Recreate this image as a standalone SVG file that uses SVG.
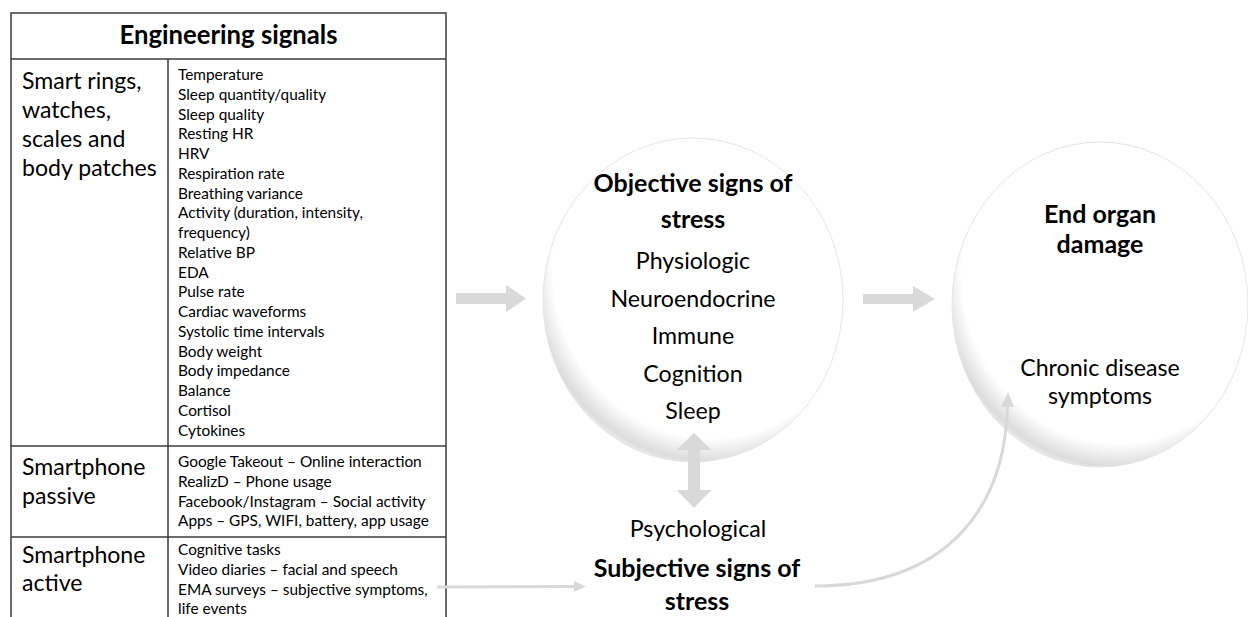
<svg xmlns="http://www.w3.org/2000/svg" width="1248" height="617" viewBox="0 0 1248 617">
<defs>
  <radialGradient id="orb" cx="0.56" cy="0.4" r="0.62">
    <stop offset="0.85" stop-color="#ffffff"/>
    <stop offset="0.965" stop-color="#dcdcdc"/>
    <stop offset="1" stop-color="#eeeeee"/>
  </radialGradient>
</defs>
<style>
  .t{font-family:Lato,"Liberation Sans",sans-serif;fill:#000}
  .hd{font-size:25.7px;font-weight:700;text-anchor:middle}
  .lb{font-size:23.1px}
  .it{font-size:15.4px}
  .ti{font-size:25px;font-weight:700;text-anchor:middle}
  .ci{font-size:23.2px;text-anchor:middle}
  .grid{fill:none;stroke:#3a3a3a;stroke-width:1.5}
  .orb{fill:url(#orb);stroke:#e6e6e6;stroke-width:1}
  .big{fill:#d9d9d9}
  .thin{fill:none;stroke:#d9d9d9;stroke-width:3}
</style>
<rect width="1248" height="617" fill="#ffffff"/>

<g id="engineering-signals">
  <rect class="grid" x="11" y="13" width="435" height="620"/>
  <line class="grid" x1="11" y1="59" x2="446" y2="59"/>
  <line class="grid" x1="168" y1="59" x2="168" y2="617"/>
  <line class="grid" x1="11" y1="446" x2="446" y2="446"/>
  <line class="grid" x1="11" y1="537" x2="446" y2="537"/>
  <text class="t hd" x="228.5" y="44">Engineering signals</text>
  <text class="t lb" x="22"><tspan x="22" y="89">Smart rings,</tspan><tspan x="22" y="118">watches,</tspan><tspan x="22" y="147">scales and</tspan><tspan x="22" y="176">body patches</tspan></text>
  <text class="t it">
    <tspan x="178" y="80">Temperature</tspan>
    <tspan x="178" y="99.75">Sleep quantity/quality</tspan>
    <tspan x="178" y="119.5">Sleep quality</tspan>
    <tspan x="178" y="139.25">Resting HR</tspan>
    <tspan x="178" y="159">HRV</tspan>
    <tspan x="178" y="178.75">Respiration rate</tspan>
    <tspan x="178" y="198.5">Breathing variance</tspan>
    <tspan x="178" y="218.25">Activity (duration,  intensity,</tspan>
    <tspan x="178" y="238">frequency)</tspan>
    <tspan x="178" y="257.75">Relative BP</tspan>
    <tspan x="178" y="277.5">EDA</tspan>
    <tspan x="178" y="297.25">Pulse rate</tspan>
    <tspan x="178" y="317">Cardiac waveforms</tspan>
    <tspan x="178" y="336.75">Systolic time intervals</tspan>
    <tspan x="178" y="356.5">Body weight</tspan>
    <tspan x="178" y="376.25">Body impedance</tspan>
    <tspan x="178" y="396">Balance</tspan>
    <tspan x="178" y="415.75">Cortisol</tspan>
    <tspan x="178" y="435.5">Cytokines</tspan>
  </text>
  <text class="t lb"><tspan x="22" y="475">Smartphone</tspan><tspan x="22" y="504">passive</tspan></text>
  <text class="t it">
    <tspan x="178" y="467">Google Takeout – Online interaction</tspan>
    <tspan x="178" y="487">RealizD – Phone usage</tspan>
    <tspan x="178" y="506.5">Facebook/Instagram – Social activity</tspan>
    <tspan x="178" y="526">Apps – GPS, WIFI, battery, app usage</tspan>
  </text>
  <text class="t lb"><tspan x="22" y="563">Smartphone</tspan><tspan x="22" y="591">active</tspan></text>
  <text class="t it">
    <tspan x="178" y="555">Cognitive tasks</tspan>
    <tspan x="178" y="575">Video diaries – facial and speech</tspan>
    <tspan x="178" y="594.5">EMA surveys – subjective symptoms,</tspan>
    <tspan x="178" y="614">life events</tspan>
  </text>
</g>

<g id="objective-signs">
  <ellipse class="orb" cx="693" cy="300" rx="150" ry="162"/>
  <text class="t ti" x="693" y="192">Objective signs of</text>
  <text class="t ti" x="693" y="228">stress</text>
  <text class="t ci" x="693" y="269">Physiologic</text>
  <text class="t ci" x="693" y="307">Neuroendocrine</text>
  <text class="t ci" x="693" y="344">Immune</text>
  <text class="t ci" x="693" y="382">Cognition</text>
  <text class="t ci" x="693" y="419">Sleep</text>
</g>

<g id="end-organ-damage">
  <ellipse class="orb" cx="1100" cy="304.5" rx="148" ry="162.5"/>
  <text class="t ti" x="1100" y="223">End organ</text>
  <text class="t ti" x="1100" y="253">damage</text>
  <text class="t ci" x="1100" y="376">Chronic disease</text>
  <text class="t ci" x="1100" y="404">symptoms</text>
</g>

<g id="subjective-signs">
  <text class="t ci" x="698" y="537">Psychological</text>
  <text class="t ti" x="697" y="577">Subjective signs of</text>
  <text class="t ti" x="697" y="610">stress</text>
</g>

<g id="connectors">
  <polygon class="big" points="456,293 506,293 506,285 526,298.5 506,312 506,304 456,304"/>
  <polygon class="big" points="863,294 913,294 913,286 935,299 913,312 913,304 863,304"/>
  <polygon class="big" points="694,433 711.5,450 700,450 700,490 711.5,490 694,508 676.5,490 688,490 688,450 676.5,450"/>
  <line class="thin" x1="437" y1="587" x2="576" y2="586.5"/>
  <polygon class="big" points="574,581 586,586.5 574,592"/>
  <path class="thin" d="M815,586 C950,586 1005,505 1007.5,406"/>
  <polygon class="big" points="1001,407 1008,392 1014,407"/>
</g>
</svg>
